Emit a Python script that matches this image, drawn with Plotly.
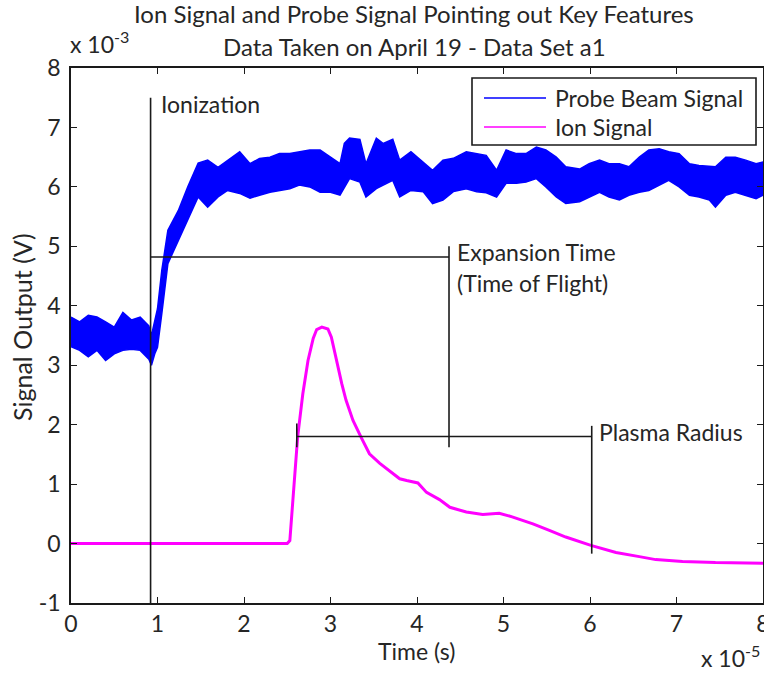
import plotly.graph_objects as go

# Time axis in units of 1e-5 s, signal axis in units of 1e-3 V
probe_t = [0.0, 0.1, 0.2, 0.3, 0.4, 0.5, 0.6, 0.7, 0.8, 0.9, 0.93, 0.97, 1.0, 1.05,
           1.12, 1.24, 1.35, 1.47, 1.58, 1.70, 1.81, 1.95, 2.07, 2.18, 2.30, 2.41,
           2.53, 2.64, 2.76, 2.88, 3.0, 3.11, 3.16, 3.22, 3.34, 3.41, 3.53, 3.61,
           3.72, 3.80, 3.93, 4.07, 4.18, 4.30, 4.42, 4.57, 4.69, 4.80, 4.92, 5.03,
           5.15, 5.26, 5.38, 5.49, 5.61, 5.72, 5.88, 5.99, 6.11, 6.22, 6.34, 6.45,
           6.57, 6.68, 6.80, 6.91, 7.03, 7.15, 7.26, 7.38, 7.45, 7.57, 7.68, 7.80,
           7.92, 8.0]
probe_upper = [3.81, 3.73, 3.84, 3.81, 3.73, 3.64, 3.89, 3.76, 3.81, 3.66, 3.50, 3.75,
               3.95, 4.60, 5.27, 5.60, 6.00, 6.40, 6.45, 6.33, 6.45, 6.59, 6.39, 6.48,
               6.50, 6.56, 6.56, 6.59, 6.62, 6.62, 6.50, 6.39, 6.73, 6.82, 6.80, 6.39,
               6.82, 6.73, 6.80, 6.45, 6.59, 6.42, 6.28, 6.45, 6.48, 6.59, 6.56, 6.53,
               6.28, 6.62, 6.56, 6.56, 6.67, 6.62, 6.50, 6.34, 6.30, 6.39, 6.45, 6.39,
               6.39, 6.34, 6.50, 6.62, 6.64, 6.59, 6.56, 6.39, 6.36, 6.34, 6.34, 6.50,
               6.50, 6.45, 6.39, 6.42]
probe_lower = [3.31, 3.25, 3.14, 3.25, 3.08, 3.19, 3.25, 3.27, 3.25, 3.10, 3.00, 3.20,
               3.30, 3.87, 4.71, 5.10, 5.44, 5.83, 5.66, 5.83, 5.94, 5.89, 5.81, 5.86,
               5.91, 5.94, 5.97, 6.03, 6.00, 5.91, 5.91, 5.86, 6.00, 6.14, 6.08, 5.83,
               5.97, 6.03, 6.11, 5.83, 5.94, 5.92, 5.72, 5.78, 5.92, 5.97, 5.92, 5.90,
               5.83, 6.06, 6.06, 6.08, 6.14, 6.00, 5.83, 5.72, 5.75, 5.83, 5.91, 5.83,
               5.78, 5.86, 5.91, 5.94, 6.03, 6.11, 6.00, 5.86, 5.83, 5.78, 5.66, 5.86,
               5.91, 5.86, 5.80, 5.86]

ion_t = [0.0, 0.5, 1.0, 1.5, 2.0, 2.5, 2.53, 2.57, 2.62, 2.68, 2.74, 2.80, 2.84,
         2.90, 2.97, 3.01, 3.07, 3.13, 3.18, 3.26, 3.36, 3.45, 3.57, 3.72, 3.80, 3.88,
         4.01, 4.11, 4.26, 4.38, 4.57, 4.76, 4.95, 5.10, 5.34, 5.53, 5.72, 6.01, 6.30,
         6.57, 6.76, 7.07, 7.45, 8.0]
ion_v = [0.0, 0.0, 0.01, 0.0, 0.01, 0.0, 0.05, 0.78, 1.79, 2.52, 3.08, 3.45, 3.60,
         3.64, 3.61, 3.47, 3.05, 2.69, 2.41, 2.07, 1.77, 1.51, 1.35, 1.18, 1.09, 1.06,
         1.02, 0.86, 0.74, 0.61, 0.53, 0.49, 0.51, 0.45, 0.33, 0.22, 0.11, -0.03,
         -0.15, -0.22, -0.27, -0.30, -0.32, -0.33]

# Key feature markers
ionization_t = 0.92
ionization_top = 7.5
expansion_level = 4.82
expansion_end_t = 4.37
expansion_span = [1.62, 5.0]
radius_level = 1.8
radius_start_t = 2.61
radius_end_t = 6.02
radius_start_span = [1.62, 2.02]
radius_end_span = [-0.17, 1.98]

x_ticks = [0, 1, 2, 3, 4, 5, 6, 7, 8]
y_ticks = [-1, 0, 1, 2, 3, 4, 5, 6, 7, 8]
y_tick_text = ["-1", "0", "1", "2", "3", "4", "5", "6", "7", "8"]

series_names = ["Probe Beam Signal", "Ion Signal"]
title_lines = ["Ion Signal and Probe Signal Pointing out Key Features",
               "Data Taken on April 19 - Data Set a1"]

FONT = "Lato"
FS = 23
BLUE = "#0000ff"
MAGENTA = "#ff00ff"
INK = "#1a1a1a"
TXT = "#262626"

# Plot area in pixels (used to place paper-referenced items)
L, R, T, B = 71, 1, 68, 72
W, H = 764, 675
PW, PH = W - L - R, H - T - B


def px(x):
    return (x - L) / PW


def py(y):
    return (H - B - y) / PH


fig = go.Figure()

# Probe beam: noisy band drawn between its lower and upper envelopes
fig.add_trace(go.Scatter(
    x=probe_t + probe_t[::-1], y=probe_upper + probe_lower[::-1],
    fill="toself", fillcolor=BLUE, line=dict(color=BLUE, width=1.5),
    mode="lines", name=series_names[0], showlegend=False, hoverinfo="skip"))

fig.add_trace(go.Scatter(x=ion_t, y=ion_v, mode="lines", name=series_names[1],
                         line=dict(color=MAGENTA, width=3), showlegend=False))


def seg(xs, ys):
    fig.add_trace(go.Scatter(x=xs, y=ys, mode="lines", line=dict(color=INK, width=1.6),
                             showlegend=False, hoverinfo="skip"))


seg([ionization_t, ionization_t], [-1, ionization_top])
seg([ionization_t, expansion_end_t], [expansion_level, expansion_level])
seg([expansion_end_t, expansion_end_t], expansion_span)
seg([radius_start_t, radius_end_t], [radius_level, radius_level])
seg([radius_start_t, radius_start_t], radius_start_span)
seg([radius_end_t, radius_end_t], radius_end_span)

tfont = dict(family=FONT, size=FS, color=TXT)
annos = [
    dict(x=ionization_t, y=7.39, text="Ionization", xanchor="left", xshift=8),
    dict(x=expansion_end_t, y=4.9, text="Expansion Time", xanchor="left", xshift=6),
    dict(x=expansion_end_t, y=4.39, text="(Time of Flight)", xanchor="left", xshift=6),
    dict(x=radius_end_t, y=1.87, text="Plasma Radius", xanchor="left", xshift=5),
]
for a in annos:
    a.update(xref="x", yref="y", showarrow=False, font=tfont, yanchor="middle")
    fig.add_annotation(**a)

# Two-line title: the lines' boxes meet at y = 30 px
for text, anchor in zip(title_lines, ["bottom", "top"]):
    fig.add_annotation(xref="paper", yref="paper", x=px(414), y=py(30),
                       xanchor="center", yanchor=anchor, showarrow=False,
                       text=text, font=dict(family=FONT, size=FS + 1, color=TXT))

# Axis titles
fig.add_annotation(xref="paper", yref="paper", x=px(416), y=py(651),
                   xanchor="center", yanchor="middle", showarrow=False,
                   text="Time (s)", font=tfont)
fig.add_annotation(xref="paper", yref="paper", x=px(22), y=py(327),
                   xanchor="center", yanchor="middle", showarrow=False, textangle=-90,
                   text="Signal Output (V)", font=dict(family=FONT, size=FS + 2, color=TXT))

# Axis exponent labels
fig.add_annotation(xref="paper", yref="paper", x=px(68), y=py(60), xanchor="left",
                   yanchor="bottom", showarrow=False,
                   text="x 10<sup>-3</sup>", font=tfont)
fig.add_annotation(xref="paper", yref="paper", x=px(699), y=py(674),
                   xanchor="left", yanchor="bottom", showarrow=False,
                   text="x 10<sup>-5</sup>", font=tfont)

# Boxed legend
fig.add_shape(type="rect", xref="paper", yref="paper",
              x0=px(472), x1=px(756), y0=py(145), y1=py(78),
              line=dict(color=INK, width=1.6), fillcolor="white", layer="above")
for name, color, yc in zip(series_names, [BLUE, MAGENTA], [98, 127]):
    fig.add_shape(type="line", xref="paper", yref="paper",
                  x0=px(484), x1=px(546), y0=py(yc), y1=py(yc),
                  line=dict(color=color, width=1.5), layer="above")
    fig.add_annotation(xref="paper", yref="paper", x=px(553), y=py(yc),
                       xanchor="left", yanchor="middle", showarrow=False,
                       text=name, font=tfont)

axis_common = dict(showgrid=False, zeroline=False, showline=True, linecolor=INK,
                   linewidth=1.5, mirror="allticks", ticks="inside", ticklen=6,
                   tickcolor=INK, tickwidth=1.3, ticklabeloverflow="allow",
                   automargin=False,
                   tickfont=dict(family=FONT, size=FS, color=TXT))

fig.update_layout(
    width=W, height=H,
    margin=dict(l=L, r=R, t=T, b=B, autoexpand=False),
    paper_bgcolor="white", plot_bgcolor="white",
    xaxis=dict(range=[0, 8], tickvals=x_ticks, ticklabelstandoff=0, **axis_common),
    yaxis=dict(range=[-1, 8], tickvals=y_ticks, ticktext=y_tick_text,
               ticklabelstandoff=4, **axis_common),
    showlegend=False,
)

fig.write_html("out.html")
